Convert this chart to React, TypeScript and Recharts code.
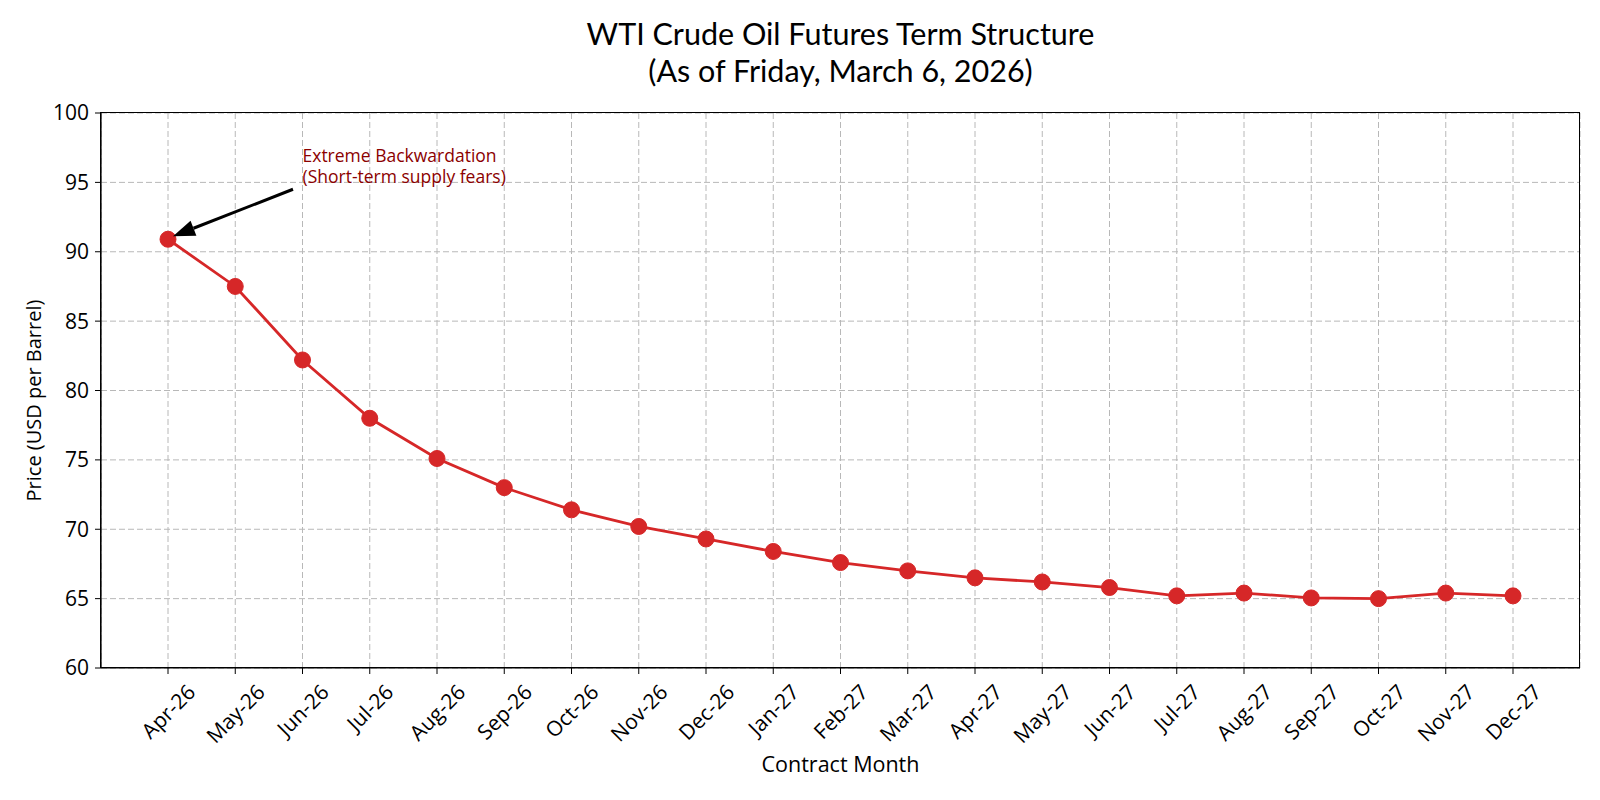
import React from 'react';
import { LineChart, Line, XAxis, YAxis, CartesianGrid, ReferenceDot } from 'recharts';

const months = [
  'Apr-26', 'May-26', 'Jun-26', 'Jul-26', 'Aug-26', 'Sep-26', 'Oct-26',
  'Nov-26', 'Dec-26', 'Jan-27', 'Feb-27', 'Mar-27', 'Apr-27', 'May-27',
  'Jun-27', 'Jul-27', 'Aug-27', 'Sep-27', 'Oct-27', 'Nov-27', 'Dec-27',
];

const prices = [
  90.9, 87.5, 82.2, 78.0, 75.1, 73.0, 71.4,
  70.2, 69.3, 68.4, 67.6, 67.0, 66.5, 66.2,
  65.8, 65.2, 65.4, 65.05, 65.0, 65.4, 65.2,
];

const yTicks = [60, 65, 70, 75, 80, 85, 90, 95, 100];

const annotationLines = ['Extreme Backwardation', '(Short-term supply fears)'];
const annotationAt = { month: 'Jun-26', price: 95 };

const data = months.map((month, i) => ({ month, price: prices[i] }));

const FONT = '"Open Sans", sans-serif';
const TITLE_FONT = 'Lato, "Open Sans", sans-serif';
const TICK_SIZE = 21;
const RED = '#d62728';

let ctx: CanvasRenderingContext2D | null = null;
const textWidth = (s: string, size: number) => {
  if (!ctx) ctx = document.createElement('canvas').getContext('2d');
  if (!ctx) return s.length * size * 0.55;
  ctx.font = `${size}px "Open Sans"`;
  return ctx.measureText(s).width;
};

// rotated month label, centred under the tick like matplotlib's ha='center'
const MonthTick = (props: any) => {
  const { x, y, payload } = props;
  const w = textWidth(String(payload.value), TICK_SIZE);
  const ext = (w + TICK_SIZE * 0.8) / Math.SQRT2;
  const cy = y + 6 + ext / 2;
  return (
    <text
      x={x}
      y={cy}
      transform={`rotate(-45 ${x} ${cy})`}
      textAnchor="middle"
      dominantBaseline="central"
      fontSize={TICK_SIZE}
      fontFamily={FONT}
      fill="#000"
    >
      {payload.value}
    </text>
  );
};

const YLabel = (props: any) => {
  const vb = props.viewBox || { y: 113, height: 555 };
  const cx = 33;
  const cy = vb.y + vb.height / 2 + 10;
  return (
    <text
      x={cx}
      y={cy}
      transform={`rotate(-90 ${cx} ${cy})`}
      textAnchor="middle"
      dominantBaseline="central"
      fontSize={20}
      fontFamily={FONT}
      fill="#000"
    >
      Price (USD per Barrel)
    </text>
  );
};

const ArrowShape = (props: any) => {
  const { cx, cy } = props;
  const tx = cx + 125;
  const ty = cy - 50;
  const hx = cx + 5;
  const hy = cy - 3;
  const len = Math.hypot(hx - tx, hy - ty);
  const ux = (hx - tx) / len;
  const uy = (hy - ty) / len;
  const bx = hx - ux * 22;
  const by = hy - uy * 22;
  const nx = -uy * 8;
  const ny = ux * 8;
  return (
    <g>
      <line x1={tx} y1={ty} x2={bx} y2={by} stroke="#000" strokeWidth={3} />
      <polygon points={`${hx},${hy} ${bx + nx},${by + ny} ${bx - nx},${by - ny}`} fill="#000" />
    </g>
  );
};

const NoteShape = (props: any) => {
  const { cx, cy } = props;
  return (
    <g>
      {annotationLines.map((t, i) => (
        <text
          key={t}
          x={cx}
          y={cy + 1 - (annotationLines.length - 1 - i) * 21}
          fontSize={17.5}
          fontFamily={FONT}
          fill="#8b0000"
        >
          {t}
        </text>
      ))}
    </g>
  );
};

export default function App() {
  return (
    <div style={{ position: 'absolute', left: 0, top: 0, width: 1600, height: 800, background: '#fff' }}>
      <div
        style={{
          position: 'absolute',
          left: 101,
          width: 1479,
          top: 15,
          textAlign: 'center',
          fontFamily: TITLE_FONT,
          fontSize: 30.5,
          lineHeight: '37px',
          color: '#000',
        }}
      >
        <div>WTI Crude Oil Futures Term Structure</div>
        <div>(As of Friday, March 6, 2026)</div>
      </div>
      <LineChart
        width={1600}
        height={800}
        data={data}
        margin={{ top: 113, right: 20, left: 0, bottom: 0 }}
      >
        <CartesianGrid stroke="#b8b8b8" strokeDasharray="6 3" />
        <XAxis
          dataKey="month"
          height={132}
          padding={{ left: 67, right: 67 }}
          interval={0}
          tickSize={6}
          tick={<MonthTick />}
          axisLine={{ stroke: '#000', strokeWidth: 1.2 }}
          tickLine={{ stroke: '#000' }}
          label={{ value: 'Contract Month', position: 'insideBottom', offset: 28, fill: '#000', fontSize: 21.5, fontFamily: FONT }}
        />
        <YAxis
          width={101}
          domain={[60, 100]}
          ticks={yTicks}
          interval={0}
          tickSize={6}
          tickMargin={6}
          tick={{ fill: '#000', fontSize: TICK_SIZE, fontFamily: FONT }}
          axisLine={{ stroke: '#000', strokeWidth: 1.2 }}
          tickLine={{ stroke: '#000' }}
          label={<YLabel />}
        />
        <Line
          type="linear"
          dataKey="price"
          stroke={RED}
          strokeWidth={2.8}
          dot={{ r: 8, fill: RED, stroke: RED, strokeWidth: 1 }}
          isAnimationActive={false}
        />
        <ReferenceDot x={months[0]} y={prices[0]} shape={<ArrowShape />} />
        <ReferenceDot x={annotationAt.month} y={annotationAt.price} shape={<NoteShape />} />
      </LineChart>
      <div
        style={{
          position: 'absolute',
          left: 100,
          top: 112,
          width: 1480,
          height: 556,
          boxSizing: 'border-box',
          border: '1.2px solid #000',
          pointerEvents: 'none',
        }}
      />
    </div>
  );
}
